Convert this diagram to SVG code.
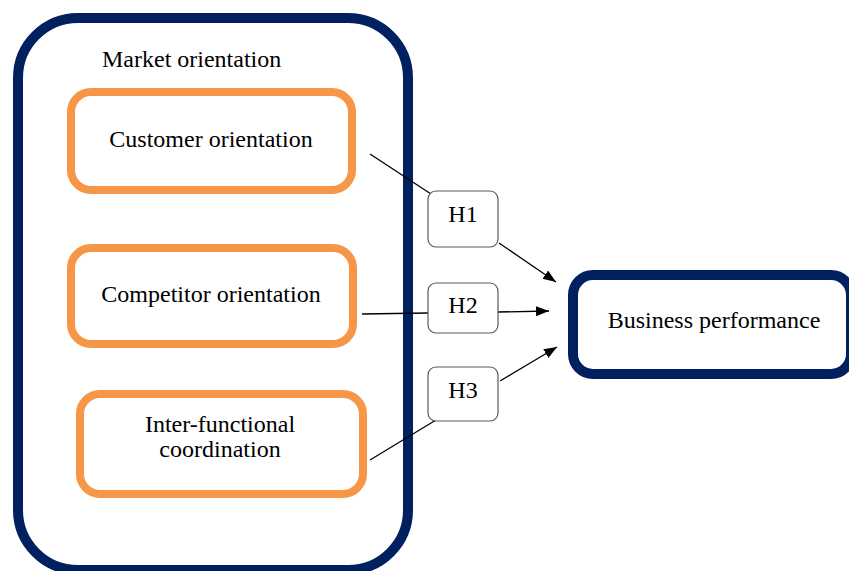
<svg xmlns="http://www.w3.org/2000/svg" width="849" height="571" viewBox="0 0 849 571">
<style>
.navy{fill:#fff;stroke:#002060;stroke-width:10}
.orange{fill:#fff;stroke:#F79646;stroke-width:8}
.hbox{fill:#fff;stroke:#595959;stroke-width:1.2}
.t{font-family:"Liberation Serif","Times New Roman",serif;font-size:24px;fill:#000}
.c{text-anchor:middle}
.conn line{stroke:#000;stroke-width:1.3}
</style>
<defs>
<marker id="arr" markerUnits="userSpaceOnUse" markerWidth="14" markerHeight="12" refX="13" refY="5" orient="auto">
<path d="M0,0 L13,5 L0,10 Z" fill="#000"/>
</marker>
</defs>
<g id="market-orientation">
<rect class="navy" x="18" y="18" width="390" height="552" rx="60"/>
<text class="t" x="102" y="67">Market orientation</text>
</g>
<g id="customer-orientation">
<rect class="orange" x="71" y="92" width="281" height="98" rx="20"/>
<text class="t c" x="211" y="147">Customer orientation</text>
</g>
<g id="competitor-orientation">
<rect class="orange" x="71" y="248" width="282" height="96" rx="20"/>
<text class="t c" x="211" y="302">Competitor orientation</text>
</g>
<g id="inter-functional">
<rect class="orange" x="80" y="394" width="283" height="100" rx="20"/>
<text class="t c" x="220" y="432">Inter-functional</text>
<text class="t c" x="220" y="457">coordination</text>
</g>
<g id="business-performance">
<rect class="navy" x="573" y="275" width="278" height="99" rx="20"/>
<text class="t c" x="714" y="328">Business performance</text>
</g>
<g id="connectors" class="conn">
<line x1="370" y1="154" x2="431" y2="194"/>
<line x1="499" y1="243" x2="556" y2="282" marker-end="url(#arr)"/>
<line x1="362" y1="314" x2="428" y2="313"/>
<line x1="498" y1="312" x2="549" y2="311" marker-end="url(#arr)"/>
<line x1="370" y1="460" x2="436" y2="420"/>
<line x1="500" y1="381" x2="557" y2="347" marker-end="url(#arr)"/>
</g>
<g id="h1">
<rect class="hbox" x="428" y="191" width="70" height="56" rx="8"/>
<text class="t c" x="463" y="222">H1</text>
</g>
<g id="h2">
<rect class="hbox" x="428" y="283" width="70" height="50" rx="8"/>
<text class="t c" x="463" y="313">H2</text>
</g>
<g id="h3">
<rect class="hbox" x="428" y="367" width="70" height="54" rx="8"/>
<text class="t c" x="463" y="398">H3</text>
</g>
</svg>
